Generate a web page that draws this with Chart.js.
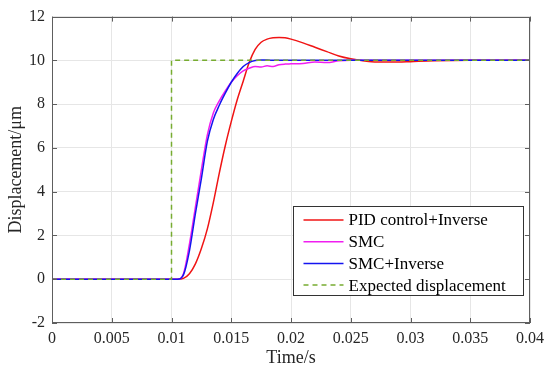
<!DOCTYPE html>
<html>
<head>
<meta charset="utf-8">
<script src="https://cdn.jsdelivr.net/npm/chart.js@4"></script>
<style>
    html, body { margin: 0; padding: 0; background: #fff; }
</style>
</head>
<body>
<canvas id="chart" width="550" height="369"></canvas>
<script>
// Data
const timeS = [0, 0.005, 0.01, 0.0105, 0.011, 0.0115, 0.012, 0.0125, 0.013, 0.0135, 0.014, 0.0145,
    0.015, 0.0155, 0.016, 0.0165, 0.017, 0.0175, 0.018, 0.0185, 0.019, 0.0195, 0.02, 0.021,
    0.022, 0.023, 0.024, 0.025, 0.026, 0.027, 0.028, 0.029, 0.03, 0.032, 0.035, 0.04];

const pidInverse = [0, 0, 0, 0, 0.04, 0.25, 0.7, 1.4, 2.3, 3.5, 4.85, 6.1,
    7.2, 8.2, 9.05, 9.9, 10.5, 10.83, 10.97, 11.03, 11.05, 11.03, 10.97, 10.8,
    10.6, 10.4, 10.2, 10.07, 9.98, 9.93, 9.92, 9.92, 9.94, 9.98, 10.0, 10.0];

const smc = [0, 0, 0, 0, 0.25, 1.6, 3.3, 5.0, 6.6, 7.6, 8.15, 8.6,
    9.0, 9.3, 9.52, 9.64, 9.72, 9.7, 9.75, 9.72, 9.8, 9.83, 9.84, 9.86,
    9.93, 9.9, 9.98, 10.0, 10, 10, 10, 10, 10, 10, 10, 10];

const smcInverse = [0, 0, 0, 0, 0.2, 1.3, 3.0, 4.6, 6.3, 7.3, 7.95, 8.5,
    9.0, 9.4, 9.72, 9.9, 9.99, 10.02, 10.02, 10.0, 10, 10, 10, 10,
    10, 10, 10, 10, 10, 10, 10, 10, 10, 10, 10, 10];

const stepTime = [0, 0.01, 0.01, 0.04];
const stepValues = [0, 0, 10, 10];

const xTickValues = [0, 0.005, 0.01, 0.015, 0.02, 0.025, 0.03, 0.035, 0.04];
const xTickLabels = ['0', '0.005', '0.01', '0.015', '0.02', '0.025', '0.03', '0.035', '0.04'];
const yTickValues = [-2, 0, 2, 4, 6, 8, 10, 12];

const FONT = "'Liberation Serif', 'Times New Roman', serif";
const TEXT = '#262626';

const toPoints = (xs, ys) => xs.map((x, i) => ({ x: x, y: ys[i] }));

// Box around the axes, inward ticks, and the MATLAB-style legend
const framePlugin = {
    id: 'frame',
    afterDatasetsDraw(chart) {
        const { ctx, chartArea: a, scales } = chart;
        ctx.save();
        ctx.strokeStyle = '#5e5e5e';
        ctx.lineWidth = 1;
        ctx.strokeRect(Math.round(a.left) + 0.5, Math.round(a.top) + 0.5,
            Math.round(a.right - a.left) - 1, Math.round(a.bottom - a.top) - 1);

        ctx.beginPath();
        const tl = 5;
        xTickValues.forEach(v => {
            const px = Math.round(scales.x.getPixelForValue(v)) + 0.5;
            ctx.moveTo(px, a.bottom); ctx.lineTo(px, a.bottom - tl);
            ctx.moveTo(px, a.top); ctx.lineTo(px, a.top + tl);
        });
        yTickValues.forEach(v => {
            const py = Math.round(scales.y.getPixelForValue(v)) + 0.5;
            ctx.moveTo(a.left, py); ctx.lineTo(a.left + tl, py);
            ctx.moveTo(a.right, py); ctx.lineTo(a.right - tl, py);
        });
        ctx.stroke();

        // Legend
        const bx = Math.round(a.right) - 237 + 0.5;
        const by = Math.round(a.bottom) - 117 + 0.5;
        const bw = 230, bh = 89;
        ctx.fillStyle = '#fff';
        ctx.fillRect(bx, by, bw, bh);
        ctx.strokeStyle = '#333';
        ctx.strokeRect(bx, by, bw, bh);

        ctx.font = '17px ' + FONT;
        ctx.textBaseline = 'middle';
        ctx.textAlign = 'left';
        chart.data.datasets.forEach((ds, i) => {
            const y = by + 13.5 + i * 21.7;
            ctx.beginPath();
            ctx.strokeStyle = ds.borderColor;
            ctx.lineWidth = 1.5;
            ctx.setLineDash(ds.borderDash || []);
            ctx.moveTo(bx + 10, y);
            ctx.lineTo(bx + 50, y);
            ctx.stroke();
            ctx.setLineDash([]);
            ctx.fillStyle = '#000';
            ctx.fillText(ds.label, bx + 55, y + 1);
        });
        ctx.restore();
    }
};

const ctx = document.getElementById('chart').getContext('2d');
new Chart(ctx, {
    type: 'line',
    data: {
        datasets: [
            {
                label: 'PID control+Inverse',
                data: toPoints(timeS, pidInverse),
                borderColor: '#f01414',
                borderWidth: 1.5,
                cubicInterpolationMode: 'monotone',
                pointRadius: 0,
                order: 4
            },
            {
                label: 'SMC',
                data: toPoints(timeS, smc),
                borderColor: '#f01ef0',
                borderWidth: 1.5,
                cubicInterpolationMode: 'monotone',
                pointRadius: 0,
                order: 3
            },
            {
                label: 'SMC+Inverse',
                data: toPoints(timeS, smcInverse),
                borderColor: '#1414f0',
                borderWidth: 1.5,
                cubicInterpolationMode: 'monotone',
                pointRadius: 0,
                order: 2
            },
            {
                label: 'Expected displacement',
                data: toPoints(stepTime, stepValues),
                borderColor: '#77ac30',
                borderWidth: 1.5,
                borderDash: [5, 4],
                tension: 0,
                pointRadius: 0,
                order: 1
            }
        ]
    },
    options: {
        responsive: false,
        animation: false,
        layout: { padding: { top: 14, right: 16, left: 0, bottom: 0 } },
        plugins: {
            legend: { display: false },
            tooltip: { enabled: false }
        },
        scales: {
            x: {
                type: 'linear',
                min: 0,
                max: 0.04,
                afterBuildTicks: s => { s.ticks = xTickValues.map(v => ({ value: v })); },
                afterFit: s => { s.height = 46; },
                ticks: {
                    callback: (v, i) => xTickLabels[i],
                    font: { family: FONT, size: 16 },
                    color: TEXT,
                    padding: 6,
                    maxRotation: 0,
                    autoSkip: false
                },
                grid: { color: '#e6e6e6', drawTicks: false },
                border: { display: false },
                title: {
                    display: true,
                    text: 'Time/s',
                    font: { family: FONT, size: 18 },
                    color: TEXT,
                    padding: 0
                }
            },
            y: {
                type: 'linear',
                min: -2,
                max: 12,
                afterBuildTicks: s => { s.ticks = yTickValues.map(v => ({ value: v })); },
                afterFit: s => { s.width = 52; },
                ticks: {
                    font: { family: FONT, size: 16 },
                    color: TEXT,
                    padding: 7
                },
                grid: { color: '#e6e6e6', drawTicks: false },
                border: { display: false },
                title: {
                    display: true,
                    text: 'Displacement/μm',
                    font: { family: FONT, size: 18 },
                    color: TEXT,
                    padding: { top: 5, bottom: 0 }
                }
            }
        }
    },
    plugins: [framePlugin]
});
</script>
</body>
</html>
